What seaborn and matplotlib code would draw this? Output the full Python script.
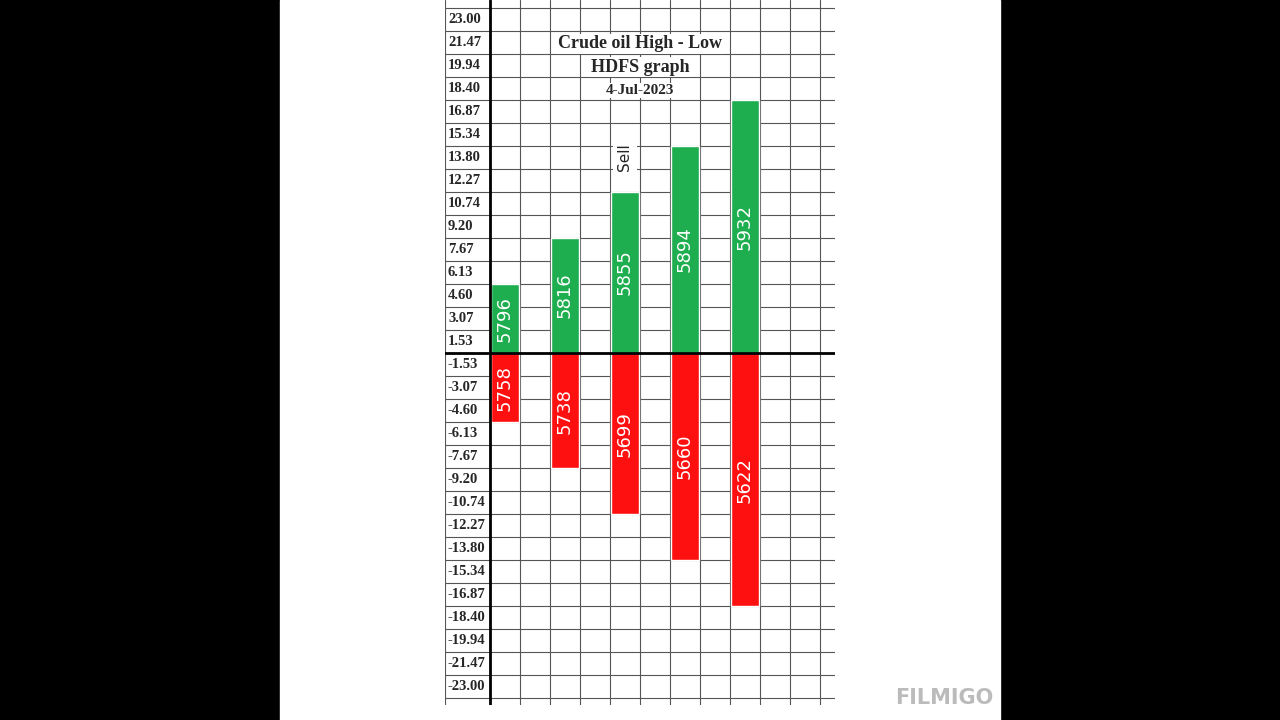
import matplotlib
matplotlib.use("Agg")
import matplotlib.pyplot as plt
import seaborn as sns

step = 1.533
row_labels = ["1.53", "3.07", "4.60", "6.13", "7.67", "9.20", "10.74", "12.27",
              "13.80", "15.34", "16.87", "18.40", "19.94", "21.47", "23.00", "24.54"]
highs = ["5796", "5816", "5855", "5894", "5932"]
lows = ["5758", "5738", "5699", "5660", "5622"]
high_vals = [4.60, 7.67, 10.74, 13.80, 16.87]
low_vals = [-4.60, -7.67, -10.74, -13.80, -16.87]
bar_cols = [0, 2, 4, 6, 8]

sns.set_style("white")
plt.rcParams["font.family"] = ["Liberation Serif", "DejaVu Serif"]

fig = plt.figure(figsize=(12.8, 7.2), dpi=100)
fig.patch.set_facecolor("black")
fig.add_artist(plt.Rectangle((280 / 1280, 0), 720 / 1280, 1, color="white",
                             transform=fig.transFigure, zorder=0))
ax = fig.add_axes([445 / 1280, 15 / 720, 390 / 1280, 705 / 720])
ax.set_xlim(-1.5, 11.5)
ax.set_ylim(-15.3 * step, 15.35 * step)
ax.axis("off")

# grid
for k in range(-15, 16):
    ax.axhline(k * step, color="#555555", lw=0.8, zorder=1)
for c in range(0, 12):
    ax.axvline(c, color="#555555", lw=0.8, zorder=1)
ax.axvline(-1.5, color="#555555", lw=0.8)
ax.axvline(0, color="black", lw=2, zorder=4)
ax.axhline(0, color="black", lw=2, zorder=4)

ax.bar([c + 0.5 for c in bar_cols], high_vals, width=0.93, color="#1fae4f", zorder=3)
ax.bar([c + 0.5 for c in bar_cols], low_vals, width=0.93, color="#ff1010", zorder=3)

for c, h, hv, l, lv in zip(bar_cols, highs, high_vals, lows, low_vals):
    ax.text(c + 0.5, hv / 2, h, rotation=90, ha="center", va="center",
            color="white", fontsize=13, family="DejaVu Sans", zorder=5)
    ax.text(c + 0.5, min(lv / 2, -2.0), l, rotation=90, ha="center", va="center",
            color="white", fontsize=13, family="DejaVu Sans", zorder=5)

for i, lab in enumerate(row_labels):
    y = (i + 0.5) * step
    ax.text(-1.4, y, lab, ha="left", va="center", fontsize=10.5, weight="bold", clip_on=True)
    if i < 15:
        ax.text(-1.4, -y, "-" + lab, ha="left", va="center", fontsize=10.5, weight="bold")

ax.text(4.5, 8.5 * step, "Sell", rotation=90, ha="center", va="center", fontsize=11,
        family="DejaVu Sans", zorder=5, bbox=dict(facecolor="white", edgecolor="none", pad=3))
ax.text(5, 20.6, "Crude oil High - Low", ha="center", va="center", fontsize=13, zorder=5,
        weight="bold", bbox=dict(facecolor="white", edgecolor="none", pad=1))
ax.text(5, 19.05, "HDFS graph", ha="center", va="center", fontsize=13, zorder=5,
        weight="bold", bbox=dict(facecolor="white", edgecolor="none", pad=1))
ax.text(5, 17.5, "4-Jul-2023", ha="center", va="center", fontsize=11, zorder=5,
        weight="bold", bbox=dict(facecolor="white", edgecolor="none", pad=1))

fig.text(944 / 1280, 1 - 698 / 720, "FILMIGO", ha="center", va="center",
         color="#bbbbbb", fontsize=15, weight="bold", family="DejaVu Sans")
fig.savefig("out.png", dpi=100, facecolor=fig.get_facecolor())
